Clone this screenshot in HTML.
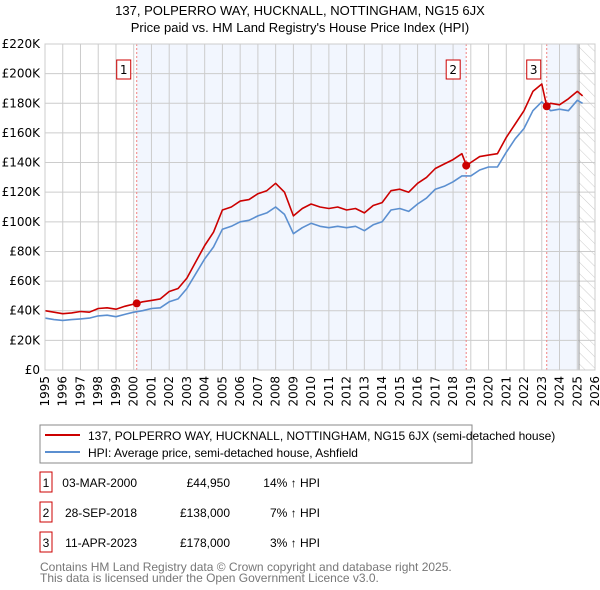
<!DOCTYPE html>
<html><head><meta charset="utf-8"><style>
body{margin:0;background:#fff;font-family:"Liberation Sans","DejaVu Sans",sans-serif}
svg{display:block}
.ls{font-family:"Liberation Sans",sans-serif}
</style></head><body>
<svg id="c" width="600" height="590" xmlns="http://www.w3.org/2000/svg" font-family="DejaVu Sans, Liberation Sans, sans-serif">
<defs><pattern id="hatch" width="8" height="8" patternUnits="userSpaceOnUse" patternTransform="rotate(-45)"><line x1="0" y1="0" x2="0" y2="8" stroke="#ccc" stroke-width="1"/></pattern></defs>
<text class="ls" x="300" y="15" text-anchor="middle" font-size="13">137, POLPERRO WAY, HUCKNALL, NOTTINGHAM, NG15 6JX</text>
<text class="ls" x="300" y="32" text-anchor="middle" font-size="13">Price paid vs. HM Land Registry's House Price Index (HPI)</text>
<g id="plot"></g>
<g class="ls">
<rect x="40" y="425" width="432" height="38" fill="#fff" stroke="#888"/>
<line x1="45" y1="435" x2="80" y2="435" stroke="#cc0000" stroke-width="2"/>
<text x="88" y="440" font-size="12">137, POLPERRO WAY, HUCKNALL, NOTTINGHAM, NG15 6JX (semi-detached house)</text>
<line x1="45" y1="452" x2="80" y2="452" stroke="#5b8fd0" stroke-width="2"/>
<text x="88" y="457" font-size="12">HPI: Average price, semi-detached house, Ashfield</text>
</g>
<g id="table" font-size="12" class="ls"></g>
<text class="ls" x="40" y="571" font-size="12" fill="#777">Contains HM Land Registry data © Crown copyright and database right 2025.</text>
<text class="ls" x="40" y="582" font-size="12" fill="#777">This data is licensed under the Open Government Licence v3.0.</text>
</svg>
<script>
const hpiYears=[1995,1995.5,1996,1996.5,1997,1997.5,1998,1998.5,1999,1999.5,2000,2000.5,2001,2001.5,2002,2002.5,2003,2003.5,2004,2004.5,2005,2005.5,2006,2006.5,2007,2007.5,2008,2008.5,2009,2009.5,2010,2010.5,2011,2011.5,2012,2012.5,2013,2013.5,2014,2014.5,2015,2015.5,2016,2016.5,2017,2017.5,2018,2018.5,2019,2019.5,2020,2020.5,2021,2021.5,2022,2022.5,2023,2023.5,2024,2024.5,2025,2025.3];
const hpiValues=[35,34,33.5,34,34.5,35,36.5,37,36,37.5,39,40,41.5,42,46,48,55,65,75,83,95,97,100,101,104,106,110,105,92,96,99,97,96,97,96,97,94,98,100,108,109,107,112,116,122,124,127,131,131,135,137,137,147,156,163,175,181,175,176,175,182,180];
const priceYears=[1995,1995.5,1996,1996.5,1997,1997.5,1998,1998.5,1999,1999.5,2000,2000.5,2001,2001.5,2002,2002.5,2003,2003.5,2004,2004.5,2005,2005.5,2006,2006.5,2007,2007.5,2008,2008.5,2009,2009.5,2010,2010.5,2011,2011.5,2012,2012.5,2013,2013.5,2014,2014.5,2015,2015.5,2016,2016.5,2017,2017.5,2018,2018.5,2018.75,2019,2019.5,2020,2020.5,2021,2021.5,2022,2022.5,2023,2023.28,2023.5,2024,2024.5,2025,2025.3];
const priceValues=[40,39,38,38.5,39.5,39,41.5,42,41,43,44.5,46,47,48,53,55,62,73,84,93,108,110,114,115,119,121,126,120,104,109,112,110,109,110,108,109,106,111,113,121,122,120,126,130,136,139,142,146,138,140,144,145,146,157,166,175,188,193,178,180,179,183,188,185];
const saleYears=[2000.17,2018.74,2023.28];
const saleValues=[44.95,138,178];
const saleLabels=["1","2","3"];
const saleDates=["03-MAR-2000","28-SEP-2018","11-APR-2023"];
const salePrices=["£44,950","£138,000","£178,000"];
const saleDiffs=["14% ↑ HPI","7% ↑ HPI","3% ↑ HPI"];
const yTicks=[0,20,40,60,80,100,120,140,160,180,200,220];
const xTicks=[];for(let y=1995;y<=2026;y++)xTicks.push(y);

const NS="http://www.w3.org/2000/svg";
const X0=45,X1=595,Y0=370,Y1=44;
const sx=y=>X0+(y-1995)*(X1-X0)/31;
const sy=v=>Y0-v*(Y0-Y1)/220;
const plot=document.getElementById('plot');
function mk(tag,attrs,parent){const e=document.createElementNS(NS,tag);for(const k in attrs)e.setAttribute(k,attrs[k]);(parent||plot).appendChild(e);return e;}
let r;
r=mk('rect',{x:sx(saleYears[0]),y:Y1,width:sx(saleYears[1])-sx(saleYears[0]),height:Y0-Y1,fill:'#eef3fd',opacity:0.75});


r=mk('rect',{x:sx(saleYears[2]),y:Y1,width:sx(2025.1)-sx(saleYears[2]),height:Y0-Y1,fill:'#eef3fd',opacity:0.75});


r=mk('rect',{x:sx(2025.1),y:Y1,width:X1-sx(2025.1),height:Y0-Y1,fill:'url(#hatch)'});


xTicks.forEach(t=>{const l=mk('line',{x1:sx(t),x2:sx(t),y1:Y1,y2:Y0,stroke:'#ccc','stroke-width':1});


const tx=mk('text',{x:0,y:0,'font-size':12,'text-anchor':'end',transform:`translate(${sx(t)+4},${Y0+6}) rotate(-90)`});tx.textContent=t;

});
yTicks.forEach(t=>{const l=mk('line',{x1:X0,x2:X1,y1:sy(t),y2:sy(t),stroke:'#ccc','stroke-width':1});


const tx=mk('text',{x:X0-5,y:sy(t)+4,'font-size':12,'text-anchor':'end'});tx.textContent=t===0?'£0':'£'+t+'K';

});
r=mk('line',{x1:sx(2025.1),x2:sx(2025.1),y1:Y1,y2:Y0,stroke:'#999','stroke-width':1});


saleYears.forEach((y,i)=>{const l=mk('line',{x1:sx(y),x2:sx(y),y1:Y1,y2:Y0,stroke:'#f08080','stroke-width':1,'stroke-dasharray':'2,2'});

});
function path(xs,vs,color,name){const d=xs.map((x,i)=>(i?'L':'M')+sx(x).toFixed(1)+','+sy(vs[i]).toFixed(1)).join('');
const p=mk('path',{d:d,fill:'none',stroke:color,'stroke-width':1.6,'stroke-linejoin':'round'});

}
path(hpiYears,hpiValues,'#5b8fd0','hpi-line');
path(priceYears,priceValues,'#cc0000','price-paid-line');
saleYears.forEach((y,i)=>{const c=mk('circle',{cx:sx(y),cy:sy(saleValues[i]),r:4,fill:'#cc0000'});


const g=mk('g',{});


mk('rect',{x:sx(y)-20,y:60,width:14,height:19,fill:'#fff',stroke:'#cc0000'},g);
const t=mk('text',{x:sx(y)-13,y:74,'font-size':12,'text-anchor':'middle'},g);t.textContent=saleLabels[i];});
r=mk('rect',{x:X0,y:Y1,width:X1-X0,height:Y0-Y1,fill:'none',stroke:'#ccc'});


const tb=document.getElementById('table');
saleYears.forEach((y,i)=>{const yy=484+i*30;
const g=mk('g',{},tb);


mk('rect',{x:40,y:yy-12,width:12,height:20,fill:'#fff',stroke:'#cc0000'},g);
let t=mk('text',{x:46,y:yy+3,'text-anchor':'middle'},g);t.textContent=saleLabels[i];
t=mk('text',{x:137,y:yy+3,'text-anchor':'end'},g);t.textContent=saleDates[i];
t=mk('text',{x:230,y:yy+3,'text-anchor':'end'},g);t.textContent=salePrices[i];
t=mk('text',{x:320,y:yy+3,'text-anchor':'end'},g);t.textContent=saleDiffs[i];});
</script>
</body></html>
